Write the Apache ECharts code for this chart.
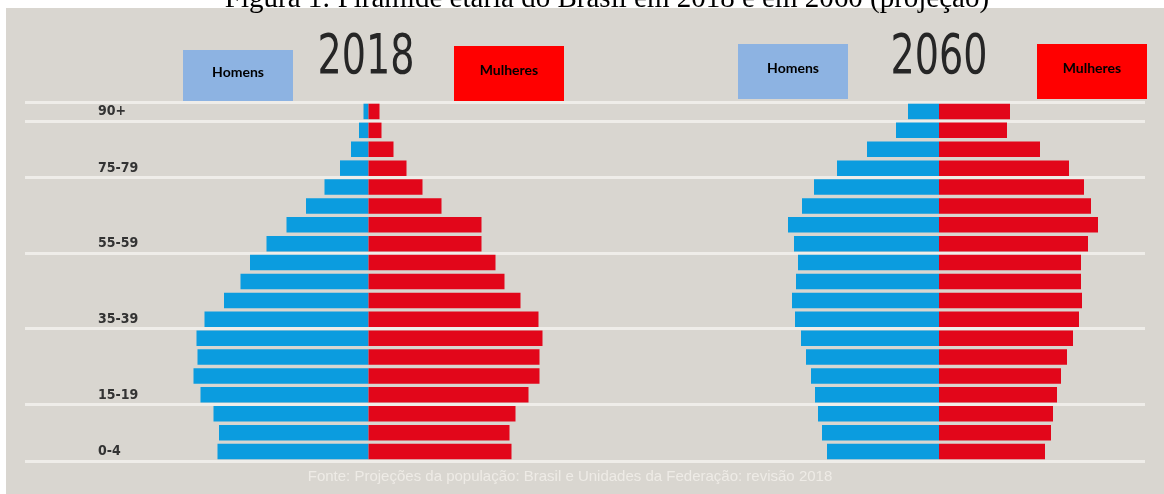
<!DOCTYPE html>
<html>
<head>
<meta charset="utf-8">
<script src="https://cdn.jsdelivr.net/npm/echarts@6/dist/echarts.min.js"></script>
<style>
  html, body { margin: 0; padding: 0; background: #ffffff; }
  #chart { width: 1164px; height: 494px; }
</style>
</head>
<body>
<div id="chart"></div>
<script>
// age groups, bottom to top
const AGES = ["0-4", "5-9", "10-14", "15-19", "20-24", "25-29", "30-34", "35-39", "40-44",
  "45-49", "50-54", "55-59", "60-64", "65-69", "70-74", "75-79", "80-84", "85-89", "90+"];
const LABELED_AGES = ["0-4", "15-19", "35-39", "55-59", "75-79", "90+"];
const YEARS = ["2018", "2060"];

// relative population per group
const MEN_2018 = [151, 149.5, 155, 168, 175, 171, 172, 164, 144.5, 128, 118.5, 102, 82, 62.5, 44, 28.5, 17.5, 9.5, 5];
const WOMEN_2018 = [143, 141, 147, 160, 171, 171, 174, 170, 152, 136, 127, 113, 113, 73, 54, 38, 25, 13, 11];
const MEN_2060 = [112, 117, 121, 124, 128, 133, 138, 144, 147, 143, 141, 145, 151, 137, 125, 102, 72, 43, 31];
const WOMEN_2060 = [106, 112, 114, 118, 122, 128, 134, 140, 143, 142, 142, 149, 159, 152, 145, 130, 101, 68, 71];

const CAPTION = "Figura 1: Pirâmide etária do Brasil em 2018 e em 2060 (projeção)";
const SOURCE = "Fonte: Projeções da população: Brasil e Unidades da Federação: revisão 2018";

const BLUE = "#0b9cdf";
const RED = "#e2061a";
const BG = "#d9d6d0";
const CONDENSED = "'Liberation Sans Narrow', 'DejaVu Sans Condensed', sans-serif";

const isLabeled = (idx, value) => LABELED_AGES.includes(value);

const textStyle = (text, font, fill, vAlign) => ({
  text, font, fill,
  align: "center", verticalAlign: vAlign,
  textAlign: "center", textVerticalAlign: vAlign,
});

const legendBox = (x, y, w, h, fill, text, ty) => ({
  type: "group",
  children: [
    { type: "rect", shape: { x, y, width: w, height: h }, style: { fill } },
    {
      type: "text", x: x + w / 2, y: ty,
      style: textStyle(text, "bold 14px Lato, 'Liberation Sans', sans-serif", "#000", "middle"),
    },
  ],
});

// year headings, squeezed to look like a condensed face
const yearText = (text, x) => ({
  type: "text", x, y: 59, scaleX: 0.77,
  style: textStyle(text, "55px 'DejaVu Sans Condensed', sans-serif", "#262626", "middle"),
});

const chart = echarts.init(document.getElementById("chart"));

const grid = { left: 25, right: 19, top: 102, bottom: 33 };

const barSeries = (name, data, sign, color, axis, stack) => ({
  type: "bar",
  name,
  stack,
  xAxisIndex: axis,
  yAxisIndex: axis,
  data: data.map((v) => sign * v),
  barCategoryGap: "18%",
  itemStyle: { color },
  silent: true,
});

const option = {
  backgroundColor: "#ffffff",
  animation: false,
  title: [
    {
      text: SOURCE, left: 565, top: 464, textAlign: "center",
      textStyle: { fontFamily: "'Liberation Sans', Arial, sans-serif", fontSize: 15, fontWeight: "normal", color: "#eeebe6" },
    },
  ],
  graphic: [
    { type: "rect", z: -10, shape: { x: 6, y: 8, width: 1158, height: 486 }, style: { fill: BG } },
    {
      type: "text", x: 607, y: 14, z: 10,
      style: textStyle(CAPTION, "29px 'Liberation Serif', 'Times New Roman', serif", "#000", "bottom"),
    },
    yearText(YEARS[0], 366),
    yearText(YEARS[1], 939),
    legendBox(183, 50, 110, 54, "#8db3e2", "Homens", 72),
    legendBox(454, 46, 110, 55, "#ff0000", "Mulheres", 70),
    legendBox(738, 44, 110, 55, "#8db3e2", "Homens", 68),
    legendBox(1037, 44, 110, 55, "#ff0000", "Mulheres", 68),
  ],
  grid: [grid, grid],
  xAxis: [
    { type: "value", gridIndex: 0, min: -343.5, max: 776.5, show: false, splitLine: { show: false } },
    { type: "value", gridIndex: 1, min: -914, max: 206, show: false, splitLine: { show: false } },
  ],
  yAxis: [
    {
      type: "category", gridIndex: 0, data: AGES,
      axisLine: { show: false }, axisTick: { show: false },
      axisLabel: {
        interval: isLabeled, align: "left", margin: -73,
        fontFamily: CONDENSED,
        fontWeight: "bold", fontSize: 14, color: "#333333",
        padding: [0, 0, 5, 0],
      },
      splitLine: { show: true, interval: isLabeled, lineStyle: { color: "#efede9", width: 3 } },
      z: 0,
    },
    {
      type: "category", gridIndex: 1, data: AGES, show: false,
      splitLine: { show: false },
    },
  ],
  series: [
    barSeries("Homens 2018", MEN_2018, -1, BLUE, 0, "p2018"),
    barSeries("Mulheres 2018", WOMEN_2018, 1, RED, 0, "p2018"),
    barSeries("Homens 2060", MEN_2060, -1, BLUE, 1, "p2060"),
    barSeries("Mulheres 2060", WOMEN_2060, 1, RED, 1, "p2060"),
  ],
};

chart.setOption(option);
</script>
</body>
</html>
